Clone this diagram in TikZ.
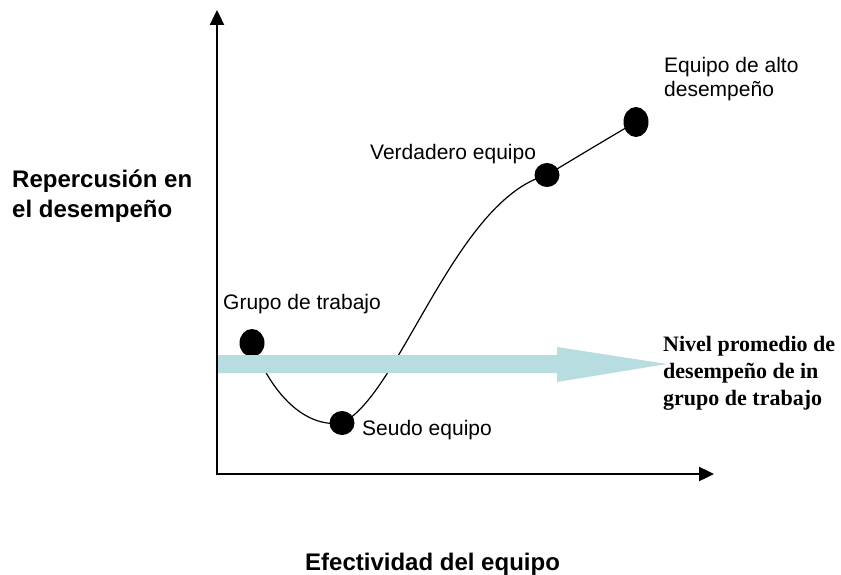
\documentclass[tikz,border=0pt]{standalone}
\usepackage{fontspec}
\setmainfont{Liberation Sans}
\newfontfamily\timesbold[BoldFont={Liberation Serif Bold}]{Liberation Serif}
\usepackage{xcolor}
\definecolor{LevelBlue}{RGB}{183,221,224}
\usetikzlibrary{arrows.meta}
\usetikzlibrary{shapes.geometric}

\begin{document}
\begin{tikzpicture}[x=1pt,y=-1pt]
        % canvas in pixel units, y pointing down
        \useasboundingbox (0,0) rectangle (841,575);
        \tikzset{
            dot/.style={ellipse,fill=black,inner sep=0pt,minimum width=25pt,minimum height=#1},
            dot/.default=24pt,
            axis/.style={line width=2.4pt,{Triangle[length=15pt,width=14pt]}-{Triangle[length=15pt,width=14pt]}},
            tag/.style={font=\fontsize{21}{24}\selectfont,inner sep=0pt,align=left},
            axistitle/.style={font=\fontsize{24}{30}\selectfont\bfseries,inner sep=0pt,align=left},
        }

        \coordinate (origin) at (217,474);
        \coordinate (ytop) at (217,10);
        \coordinate (xend) at (714,474);
        \draw[axis] (ytop) -- (origin) -- (xend);

        \node[dot=28pt] (grupo) at (252,343) {};
        \node[dot] (seudo) at (342,423) {};
        \node[dot] (verdadero) at (547,175) {};
        \node[dot=30pt] (alto) at (636,122) {};

        \draw[line width=1.2pt] (grupo.center)
            .. controls (272,395) and (305,428) .. (seudo.center)
            .. controls (400,395) and (455,200) .. (verdadero.center)
            .. controls (577,157) and (605,140) .. (alto.center);

        % nivel promedio
        \fill[LevelBlue] (218,355) -- (557,355) -- (557,347) -- (667,364)
            -- (557,382) -- (557,373) -- (218,373) -- cycle;

        \node[tag,anchor=base west] (grupotxt) at (223,309) {Grupo de trabajo};
        \node[tag,anchor=base west] (seudotxt) at (362,435) {Seudo equipo};
        \node[tag,anchor=base west] (verdtxt) at (370,160) {Verdadero equipo};
        \node[tag,anchor=north west] (altotxt) at (664,57) {Equipo de alto\\desempeño};
        \node[font=\timesbold\bfseries\fontsize{22}{27}\selectfont,inner sep=0pt,align=left,anchor=north west]
            (niveltxt) at (663,336) {Nivel promedio de\\desempeño de in\\grupo de trabajo};
        \node[axistitle,anchor=north west] (ytitle) at (12,170) {Repercusión en\\el desempeño};
        \node[axistitle,anchor=base west] (xtitle) at (305,570) {Efectividad del equipo};
\end{tikzpicture}
\end{document}
